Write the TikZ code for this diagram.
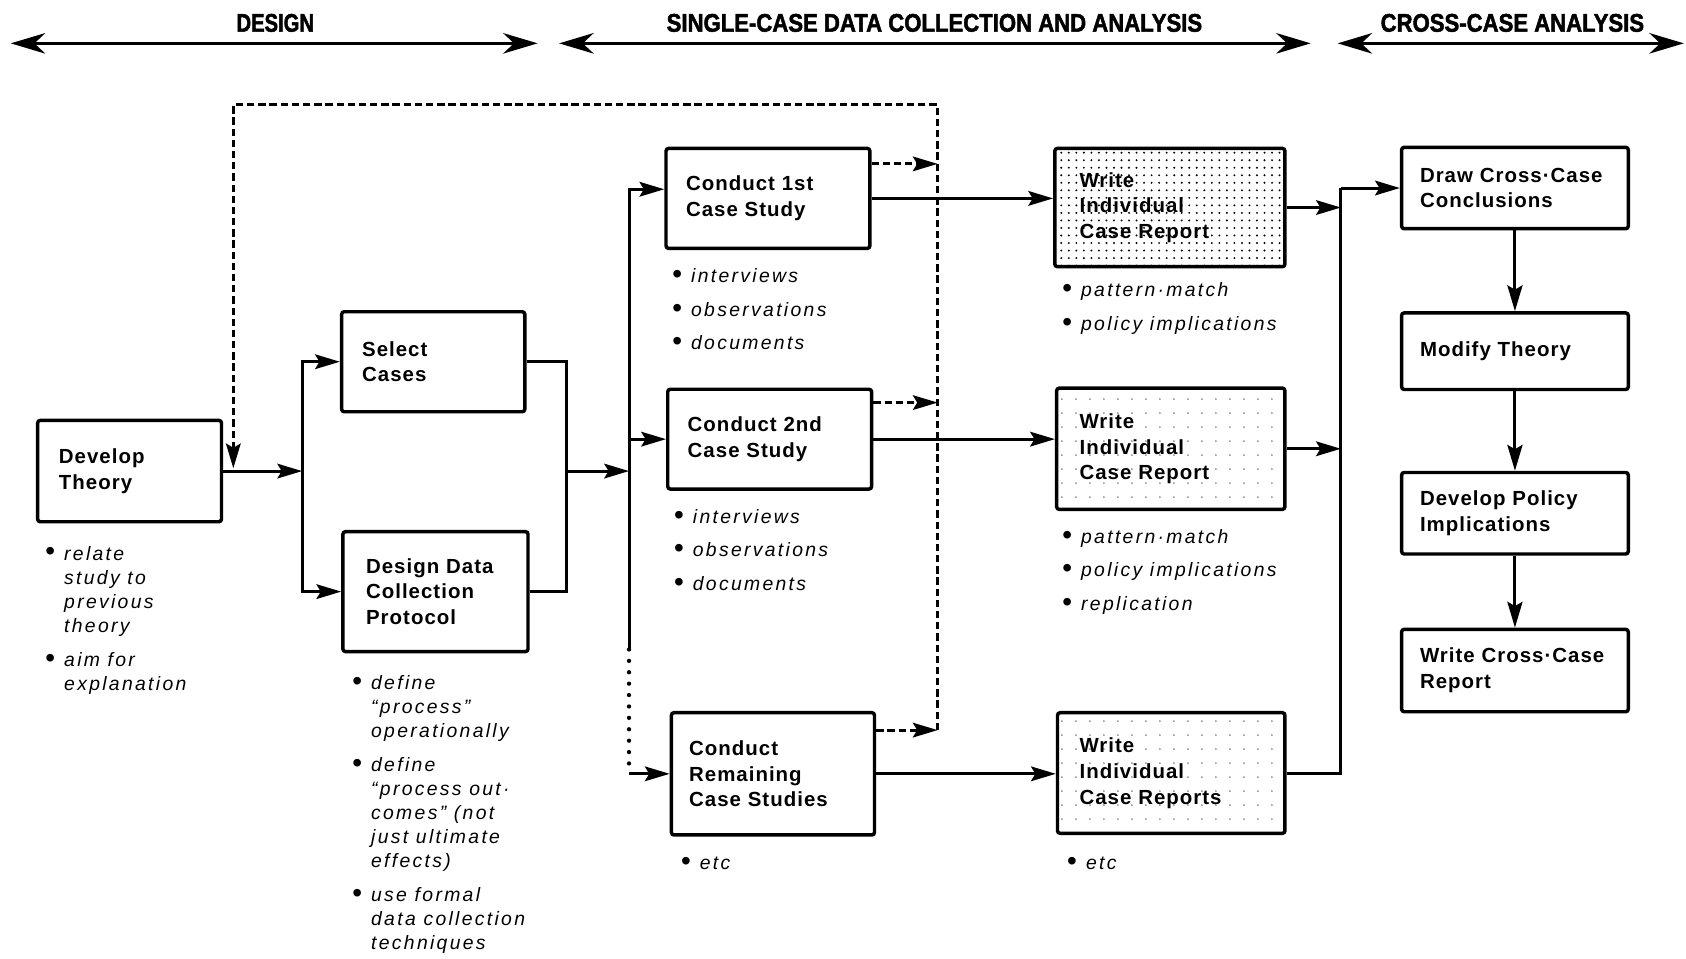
\documentclass[tikz,border=0pt]{standalone}
\usepackage{fontspec}
\usepackage{graphicx}
\setmainfont{Liberation Sans}
\newfontfamily\boxfont[LetterSpace=5]{Liberation Sans}
\newfontfamily\bulfont[LetterSpace=12]{Liberation Sans}
\newfontfamily\hdfont[BoldFeatures={FakeBold=2}]{Liberation Sans}
\usetikzlibrary{arrows.meta,patterns.meta}
\newcommand\bulmark{\makebox[8.9pt][l]{\raisebox{-0.45pt}{\scalebox{1.45}{•}}}}
\newcommand\bulind{\hspace*{8.9pt}}
\tikzset{
  procbox/.style={draw, line width=1.6pt, rounded corners=1.2pt, inner ysep=0pt, align=left,
    font=\boxfont\bfseries\fontsize{9.5}{12}\selectfont},
  bultxt/.style={anchor=base west, inner sep=0pt, align=left,
    font=\bulfont\itshape\fontsize{9}{11.2}\selectfont},
  hdr/.style={inner sep=0pt, font=\hdfont\bfseries},
  ln/.style={line width=1.4pt},
  arr/.style={line width=1.4pt, -{Stealth[length=11.5pt,width=6.8pt,inset=2pt]}},
  varr/.style={line width=1.4pt, -{Stealth[length=12pt,width=7pt,inset=2pt]}},
  dsh/.style={line width=1.4pt, dash pattern=on 3.4pt off 1.8pt},
  dotl/.style={line width=2pt, line cap=round, dash pattern=on 0pt off 5.3pt},
  harr/.style={line width=1.7pt, {Stealth[length=16pt,width=9.5pt,inset=5pt]}-{Stealth[length=16pt,width=9.5pt,inset=5pt]}},
  densedots/.style={pattern={Dots[distance=3.5pt,radius=0.5pt]}},
  sparsedots/.style={pattern={Dots[distance=6.5pt,radius=0.35pt]}, pattern color=black!70}
}
\begin{document}
\begin{tikzpicture}[x=0.5pt,y=-0.5pt]
\fill[white] (0,0) rectangle (1568,891);
\useasboundingbox (0,0) rectangle (1568,891);

% ---------- headers ----------
\node[hdr] (h1) at (256,21.3) {\resizebox{36pt}{8.25pt}{DESIGN}};
\node[hdr] (h2) at (869,21.3) {\resizebox{249pt}{8.25pt}{SINGLE-CASE DATA COLLECTION AND ANALYSIS}};
\node[hdr] (h3) at (1406.5,21.3) {\resizebox{122.5pt}{8.25pt}{CROSS-CASE ANALYSIS}};
\coordinate (h1l) at (10,40.3);   \coordinate (h1r) at (500,40.3);
\coordinate (h2l) at (520,40.3);  \coordinate (h2r) at (1219,40.3);
\coordinate (h3l) at (1244,40.3); \coordinate (h3r) at (1566,40.3);
\draw[harr] (h1l) -- (h1r);
\draw[harr] (h2l) -- (h2r);
\draw[harr] (h3l) -- (h3r);

% ---------- boxes ----------
\node[procbox, minimum width=85.5pt, text width=65.7pt, inner xsep=9.9pt, minimum height=47.1pt] (dt) at (120.5,438.1) {Develop\\Theory};
\node[procbox, minimum width=85.2pt, text width=66.1pt, inner xsep=9.55pt, minimum height=46.5pt] (sc) at (402.9,336.4) {Select\\Cases};
\node[procbox, minimum width=86.05pt, text width=64.55pt, inner xsep=10.75pt, minimum height=55.8pt] (dd) at (405,550.2) {Design Data\\Collection\\Protocol};
\node[procbox, minimum width=94.8pt, text width=76.2pt, inner xsep=9.3pt, minimum height=46.5pt] (c1) at (714.2,184.5) {Conduct 1st\\Case Study};
\node[procbox, minimum width=94.8pt, text width=76.2pt, inner xsep=9.3pt, minimum height=46.4pt] (c2) at (715.8,408.4) {Conduct 2nd\\Case Study};
\node[procbox, minimum width=94.45pt, text width=77.95pt, inner xsep=8.25pt, minimum height=56.85pt] (c3) at (718.85,719.65) {Conduct\\Remaining\\Case Studies};
\node[procbox, densedots, minimum width=107pt, text width=84pt, inner xsep=11.5pt, minimum height=55pt] (w1) at (1088,193) {Write\\Individual\\Case Report};
\node[procbox, sparsedots, minimum width=106.15pt, text width=84.85pt, inner xsep=10.65pt, minimum height=56.35pt] (w2) at (1088.85,417.35) {Write\\Individual\\Case Report};
\node[procbox, sparsedots, minimum width=105.75pt, text width=85.25pt, inner xsep=10.25pt, minimum height=56.1pt] (w3) at (1089.25,718.9) {Write\\Individual\\Case Reports};
\node[procbox, minimum width=105.4pt, text width=88.3pt, inner xsep=8.55pt, minimum height=37.85pt] (dc) at (1408.9,174.85) {Draw Cross·Case\\Conclusions};
\node[procbox, minimum width=105.4pt, text width=88.3pt, inner xsep=8.55pt, minimum height=35.6pt] (mt) at (1408.9,326.6) {Modify Theory};
\node[procbox, minimum width=105.4pt, text width=88.3pt, inner xsep=8.55pt, minimum height=37.9pt] (dp) at (1408.9,477.3) {Develop Policy\\Implications};
\node[procbox, minimum width=105.4pt, text width=88.3pt, inner xsep=8.55pt, minimum height=38.3pt] (wr) at (1408.9,623.6) {Write Cross·Case\\Report};

% ---------- bullet lists (anchored at the baseline of their last line) ----------
\node[bultxt] (bdt) at (41.5,642) {\bulmark relate\\\bulind study to\\\bulind previous\\\bulind theory\\[4.6pt]\bulmark aim for\\\bulind explanation};
\node[bultxt] (bdd) at (327,883.4) {\bulmark define\\\bulind “process”\\\bulind operationally\\[4.6pt]\bulmark define\\\bulind “process out·\\\bulind comes” (not\\\bulind just ultimate\\\bulind effects)\\[4.6pt]\bulmark use formal\\\bulind data collection\\\bulind techniques};
\node[bultxt] (bc1) at (624.6,325.3) {\bulmark interviews\\[4.4pt]\bulmark observations\\[4.4pt]\bulmark documents};
\node[bultxt] (bc2) at (626.2,549.1) {\bulmark interviews\\[4.4pt]\bulmark observations\\[4.4pt]\bulmark documents};
\node[bultxt] (bc3) at (632.7,809) {\bulmark etc};
\node[bultxt] (bw1) at (987.3,307.1) {\bulmark pattern·match\\[4.4pt]\bulmark policy implications};
\node[bultxt] (bw2) at (987.3,567.7) {\bulmark pattern·match\\[4.4pt]\bulmark policy implications\\[4.4pt]\bulmark replication};
\node[bultxt] (bw3) at (991.8,809) {\bulmark etc};

% ---------- guide coordinates ----------
\coordinate (xa) at (281,0);
\coordinate (xb) at (527,0);
\coordinate (xc) at (585,0);
\coordinate (xd) at (872,0);
\coordinate (xe) at (1247,0);
\coordinate (ja) at (dt.east -| xa);
\coordinate (jb) at (dt.east -| xb);
\coordinate (jc) at (dt.east -| xc);
\coordinate (c1in) at ([yshift=4.25pt]c1.west);
\coordinate (dotstart) at (585,604);
\coordinate (dotend) at (xc |- c3.west);
\coordinate (d1) at ([yshift=-8pt]c1.north east);
\coordinate (d2) at ([yshift=-7pt]c2.north east);
\coordinate (d3) at ([yshift=-8.9pt]c3.north east);
\coordinate (fbA) at (872,97.6);
\coordinate (fbB) at (217,97.6);
\coordinate (fbC) at (217,435.5);

% ---------- design connectors ----------
\draw[arr] (dt.east) -- (ja);
\draw[arr] (ja) |- (sc.west);
\draw[arr] (ja) |- (dd.west);
\draw[ln] (sc.east) -| (jb);
\draw[ln] (dd.east) -| (jb);
\draw[arr] (jb) -- (jc);

% ---------- single case connectors ----------
\draw[arr] (jc) |- (c1in);
\draw[arr] (jc) |- (c2.west);
\draw[ln] (jc) -- (dotstart);
\draw[dotl] (dotstart) -- (dotend);
\draw[arr] (dotend) -- (c3.west);

\draw[arr] (c1.east) -- (c1.east -| w1.west);
\draw[arr] (c2.east) -- (c2.east -| w2.west);
\draw[arr] (c3.east) -- (c3.east -| w3.west);

% dashed feedback
\draw[dsh, arr] (d1) -- (d1 -| xd);
\draw[dsh, arr] (d2) -- (d2 -| xd);
\draw[dsh, arr] (d3) -- (d3 -| xd);
\draw[dsh, arr] (d3 -| xd) -- (fbA) -- (fbB) -- (fbC);

% ---------- cross case connectors ----------
\draw[arr] (w1.east) -- (w1.east -| xe);
\draw[arr] (w2.east) -- (w2.east -| xe);
\draw[ln] (w3.east) -| (xe |- dc.west);
\draw[arr] (xe |- dc.west) -- (dc.west);
\draw[varr] (dc.south) -- (mt.north);
\draw[varr] (mt.south) -- (dp.north);
\draw[varr] (dp.south) -- (wr.north);
\end{tikzpicture}
\end{document}
